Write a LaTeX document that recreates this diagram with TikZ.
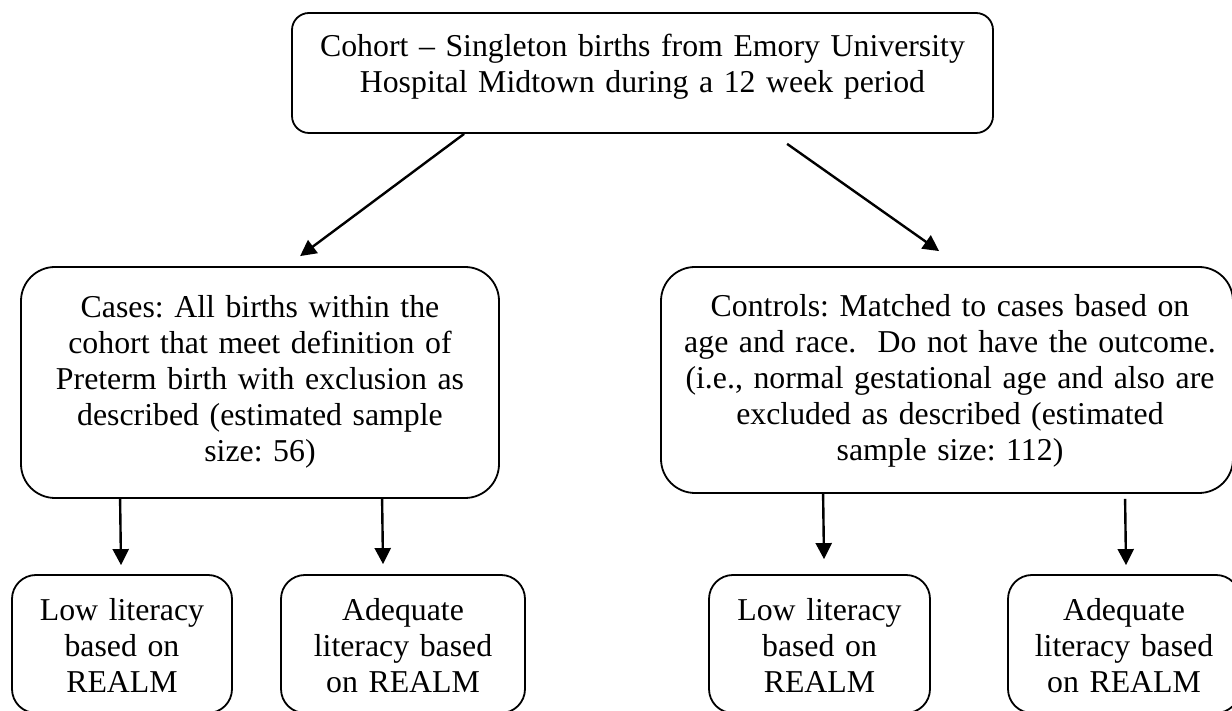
\documentclass[tikz,border=0pt]{standalone}
\usepackage{fontspec}
\setmainfont{Liberation Serif}
\usetikzlibrary{arrows.meta,calc}
\begin{document}
\frenchspacing
\begin{tikzpicture}[x=1pt,y=1pt,
  box/.style={draw, line width=1.8pt, rounded corners=#1, inner sep=0pt},
  box/.default=20pt,
  txt/.style={anchor=base, align=center, inner sep=0pt,
    font=\fontsize{31.8}{35.8}\selectfont},
  arr/.style={line width=2.4pt, -{Triangle[length=16pt,width=16pt]}}]
\useasboundingbox (0,0) rectangle (1232,711);
% boxes
\node[box=17pt, minimum width=701pt, minimum height=120pt] (cohort) at (642.5,638) {};
\node[box=34pt, minimum width=478pt, minimum height=231pt] (cases) at (260,328.5) {};
\node[box=34pt, minimum width=572pt, minimum height=226pt] (controls) at (947,331) {};
\node[box=24pt, minimum width=220pt, minimum height=138pt] (lowL) at (122,67) {};
\node[box=24pt, minimum width=244pt, minimum height=138pt] (adeqL) at (403,67) {};
\node[box=24pt, minimum width=221pt, minimum height=138pt] (lowR) at (819.5,67) {};
\node[box=24pt, minimum width=232pt, minimum height=138pt] (adeqR) at (1124,67) {};
% texts
\node[txt, text width=700pt] (cohortt) at (642.5,654)
  {Cohort -- Singleton births from Emory University\\Hospital Midtown during a 12 week period};
\node[txt, text width=470pt] (casest) at (260,393)
  {Cases: All births within the\\cohort that meet definition of\\Preterm birth with exclusion as\\described (estimated sample\\size: 56)};
\node[txt, text width=560pt] (controlst) at (950,394)
  {Controls: Matched to cases based on\\age and race.\ \ Do not have the outcome.\\(i.e., normal gestational age and also are\\excluded as described (estimated\\sample size: 112)};
\node[txt, text width=215pt] (lowLt) at (122,90) {Low literacy\\based on\\REALM};
\node[txt, text width=240pt] (adeqLt) at (403,90) {Adequate\\literacy based\\on REALM};
\node[txt, text width=215pt] (lowRt) at (819.5,90) {Low literacy\\based on\\REALM};
\node[txt, text width=230pt] (adeqRt) at (1124,90) {Adequate\\literacy based\\on REALM};
% connectors
\coordinate (tipCases) at ($(cases.north west)+(280,10)$);
\coordinate (tipControls) at ($(controls.north west)+(279,15)$);
\draw[arr] ($(cohort.south west)+(173,0)$) -- (tipCases);
\draw[arr] ($(cohort.south west)+(496,-10)$) -- (tipControls);
\draw[arr] ($(cases.south west)+(100,0)$) -- ($(lowL.north)+(-1,9)$);
\draw[arr] ($(cases.south west)+(362,0)$) -- ($(adeqL.north)+(-20,10)$);
\draw[arr] ($(controls.south west)+(163,0)$) -- ($(lowR.north)+(4.5,15)$);
\draw[arr] ($(controls.south west)+(465,-5)$) -- ($(adeqR.north)+(2,9)$);
\end{tikzpicture}
\end{document}
